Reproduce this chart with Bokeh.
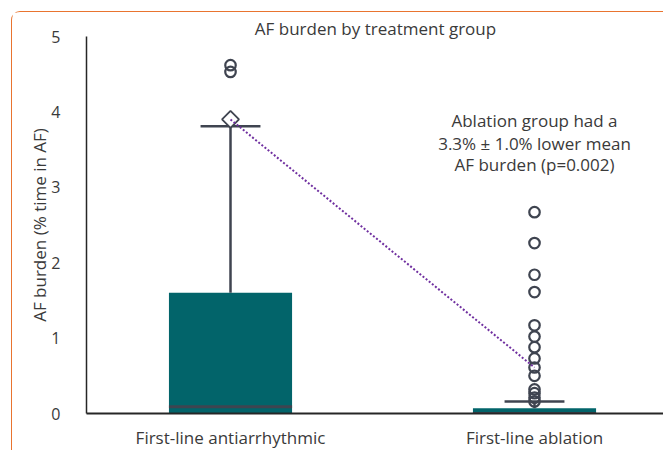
from bokeh.plotting import figure
from bokeh.models import Label, Range1d, FixedTicker, Title
from bokeh.embed import file_html
from bokeh.resources import INLINE

# Box-plot summary of AF burden (% time in AF) per treatment group
groups = ["First-line antiarrhythmic", "First-line ablation"]
positions = [1, 2]
q1 = [0.0, 0.0]
median = [0.09, 0.0]
q3 = [1.60, 0.07]
upper_whisker = [3.81, 0.16]
means = [3.90, 0.61]
outliers_antiarrhythmic = [4.62, 4.53]
outliers_ablation = [2.67, 2.26, 1.84, 1.61, 1.17, 1.02, 0.88, 0.73, 0.61,
                     0.50, 0.32, 0.27, 0.21, 0.16]
y_ticks = [0, 1, 2, 3, 4, 5]
note_lines = ["Ablation group had a", "3.3% \u00b1 1.0% lower mean", "AF burden (p=0.002)"]

FONT = "Open Sans"
TEXT = "#3A3A3A"
BOX = "#02646A"
EDGE = "#3F4450"
box_width = 0.405
cap_width = 0.197

p = figure(width=652, height=439, output_backend="svg", toolbar_location=None,
           x_range=Range1d(0.5263, 2.4276), y_range=Range1d(0, 5),
           min_border_left=74, min_border_right=0, min_border_top=24,
           min_border_bottom=37)
p.margin = (11, 0, 0, 11)
p.styles = {"border-top": "1.5px solid #E9742F",
            "border-left": "1.5px solid #E9742F",
            "border-top-left-radius": "9px"}
p.outline_line_color = None
p.xgrid.visible = False
p.ygrid.visible = False
p.background_fill_color = "white"
p.border_fill_color = "white"

# boxes and medians
p.vbar(x=positions, bottom=q1, top=q3, width=box_width, fill_color=BOX,
       line_color=None)
p.segment(x0=[x - box_width / 2 for x in positions], y0=median,
          x1=[x + box_width / 2 for x in positions], y1=median,
          line_color=EDGE, line_width=3)

# whiskers and caps
p.segment(x0=positions, y0=q3, x1=positions, y1=upper_whisker,
          line_color=EDGE, line_width=2.5)
p.segment(x0=[x - cap_width / 2 for x in positions], y0=upper_whisker,
          x1=[x + cap_width / 2 for x in positions], y1=upper_whisker,
          line_color=EDGE, line_width=2.5)

# outliers
p.scatter(x=[positions[0]] * len(outliers_antiarrhythmic), y=outliers_antiarrhythmic,
          marker="circle", size=10.5, fill_color=None, line_color=EDGE, line_width=2.2)
p.scatter(x=[positions[1]] * len(outliers_ablation), y=outliers_ablation,
          marker="circle", size=10.5, fill_color=None, line_color=EDGE, line_width=2.2)

# mean marker and the dotted link between group means
p.scatter(x=positions[:1], y=means[:1], marker="square", angle=0.785398,
          size=12, fill_color="white", line_color=EDGE, line_width=1.8)
p.line(x=positions, y=means, line_color="#7030A0", line_width=2,
       line_dash="2 2")

# axes
p.yaxis.ticker = FixedTicker(ticks=y_ticks)
p.xaxis.ticker = FixedTicker(ticks=positions)
p.xaxis.major_label_overrides = {positions[0]: groups[0], positions[1]: groups[1]}
for ax in (p.xaxis, p.yaxis):
    ax.major_tick_out = 0
    ax.major_tick_in = 0
    ax.minor_tick_out = 0
    ax.minor_tick_in = 0
    ax.major_label_text_font = FONT
    ax.major_label_text_color = TEXT
p.xaxis.major_label_text_font_size = "17px"
p.yaxis.major_label_text_font_size = "16px"
p.xaxis.axis_line_color = "#262626"
p.xaxis.axis_line_width = 2
p.yaxis.axis_line_color = "#262626"
p.yaxis.axis_line_width = 1.5
p.xaxis.major_label_standoff = 12
p.yaxis.major_label_standoff = 26
p.yaxis.axis_label = "AF burden (% time in AF)"
p.yaxis.axis_label_text_font = FONT
p.yaxis.axis_label_text_font_size = "17px"
p.yaxis.axis_label_text_font_style = "normal"
p.yaxis.axis_label_text_color = TEXT
p.yaxis.axis_label_standoff = -3

# title above the frame
title = Title(text="AF burden by treatment group", align="center",
              text_font=FONT, text_font_size="17px", text_font_style="normal",
              text_color=TEXT, standoff=-6)
p.add_layout(title, "above")

# annotation on the mean difference
for line, y in zip(note_lines, [3.88, 3.58, 3.30]):
    p.add_layout(Label(x=2.0, y=y, text=line, text_align="center",
                       text_baseline="middle", text_font=FONT,
                       text_font_size="17px", text_color=TEXT))

open("out.html", "w").write(file_html(p, INLINE))
